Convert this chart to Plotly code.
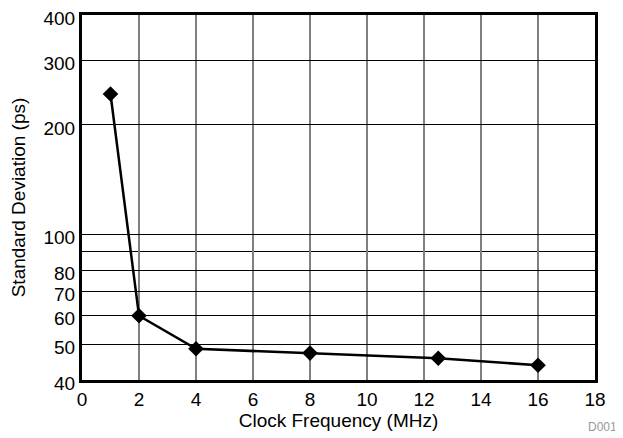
import plotly.graph_objects as go

freq_mhz = [1, 2, 4, 8, 12.5, 16]
std_dev_ps = [243, 60, 48.7, 47.4, 45.9, 43.9]
y_tick_vals = [40, 50, 60, 70, 80, 100, 200, 300, 400]
y_tick_text = ["40", "50", "60", "70", "80", "100", "200", "300", "400"]
x_tick_vals = [0, 2, 4, 6, 8, 10, 12, 14, 16, 18]

fig = go.Figure()
fig.add_trace(go.Scatter(
    x=freq_mhz, y=std_dev_ps, mode="lines+markers",
    line=dict(color="black", width=2.5),
    marker=dict(symbol="diamond", size=12, color="black"),
    showlegend=False,
))

font = "Liberation Sans, Arial, sans-serif"
fig.update_layout(
    width=615, height=430,
    margin=dict(l=74, r=28, t=7, b=58),
    paper_bgcolor="white", plot_bgcolor="white",
    font=dict(family=font, size=19, color="black"),
    xaxis=dict(
        range=[0, 18], tickvals=x_tick_vals, showgrid=True,
        gridcolor="#808080", gridwidth=1.5,
        showline=True, linecolor="black", linewidth=3, mirror=True,
        ticks="", zeroline=False, automargin=False, ticklabeloverflow="allow",
        title=dict(text="Clock Frequency (MHz)", font=dict(size=19), standoff=3),
        tickfont=dict(size=19),
    ),
    yaxis=dict(
        type="log", range=[1.60206, 2.60206],
        tickvals=y_tick_vals, ticktext=y_tick_text,
        showgrid=True, gridcolor="black", gridwidth=1,
        minor=dict(tickvals=[90], showgrid=True, gridcolor="black", gridwidth=1, ticks=""),
        showline=True, linecolor="black", linewidth=3, mirror=True,
        ticks="", zeroline=False, automargin=False, ticklabeloverflow="allow",
        ticklabelshift=3,
        title=dict(text="Standard Deviation (ps)", font=dict(size=19), standoff=20),
        tickfont=dict(size=19),
    ),
    annotations=[dict(
        text="D001", xref="paper", yref="paper", x=1.0468, y=-0.128,
        xanchor="right", yanchor="middle", showarrow=False,
        font=dict(size=12, color="#999999"),
    )],
)

fig.write_html("out.html")
